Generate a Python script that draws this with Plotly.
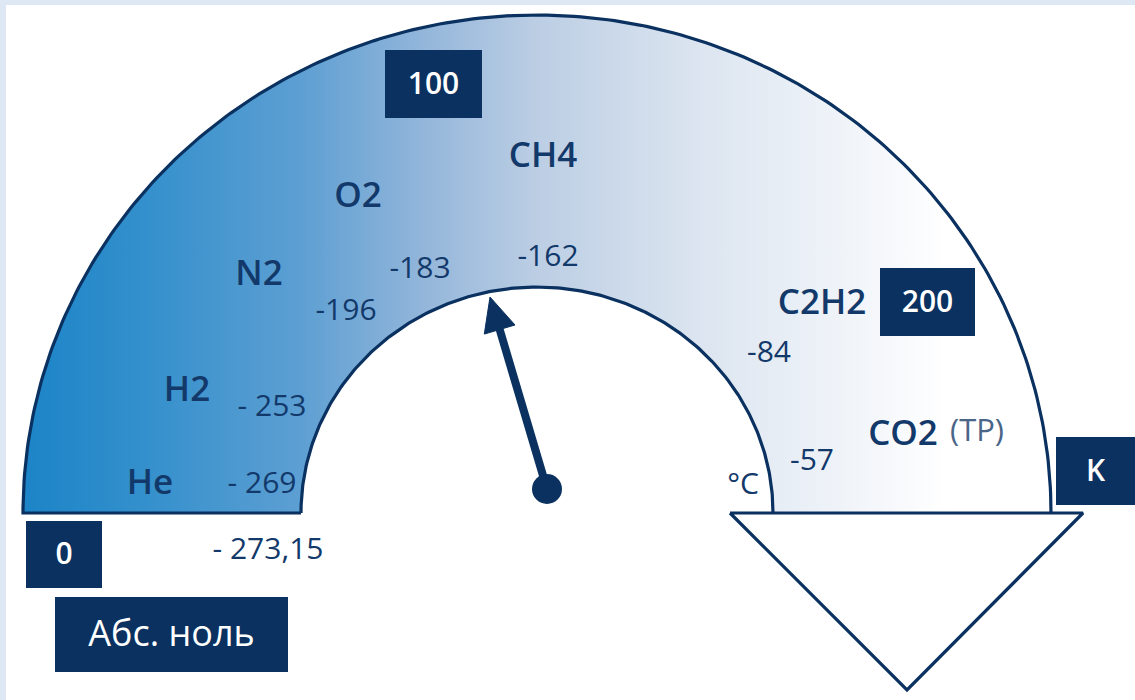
import numpy as np
import plotly.graph_objects as go

# ---------------- data ----------------
gases = ["He", "H2", "N2", "O2", "CH4", "C2H2", "CO2"]
boil_labels = ["- 269", "- 253", "-196", "-183", "-162", "-84", "-57"]
kelvin_ticks = ["0", "100", "200", "K"]
zero_c_label = "- 273,15"
unit_c = "°C"
abs_zero = "Абс. ноль"
co2_note = "(TP)"

# ---------------- layout / style (pixel coordinates) ----------------
W, H = 1135, 700
NAVY = "#0a3160"
TXT = "#12396a"
CX, CY = 537, 513
OUT_A, OUT_B = 514, 498
IN_A, IN_B = 236, 226

gas_pos = [(150, 485), (187, 392), (259, 276), (358, 198), (543, 158), (822, 305), (903, 436)]
boil_pos = [(262, 485), (272, 408), (346, 312), (420, 270), (548, 258), (769, 354), (812, 462)]
tick_boxes = [(26, 521, 102, 588), (385, 50, 482, 118), (880, 268, 975, 336), (1056, 437, 1135, 505)]
FONT = "Open Sans"

t = np.linspace(np.pi, 0, 240)
ox = CX + OUT_A * np.cos(t)
oy = CY - OUT_B * np.sin(t)
ix = CX + IN_A * np.cos(t[::-1])
iy = CY - IN_B * np.sin(t[::-1])

fig = go.Figure()

# gradient band
fig.add_trace(go.Scatter(
    x=np.concatenate([ox, ix, [ox[0]]]), y=np.concatenate([oy, iy, [oy[0]]]),
    mode="lines", fill="toself", line=dict(width=0),
    fillgradient=dict(type="horizontal", start=CX - OUT_A, stop=CX + OUT_A,
                      colorscale=[[0, "#1c84c7"], [0.12, "#3490cc"], [0.27, "#5d9fd3"],
                                  [0.39, "#93b6da"], [0.5, "#bccee4"], [0.66, "#dce5f0"],
                                  [0.8, "#f0f4f9"], [0.9, "#ffffff"], [1, "#ffffff"]]),
    hoverinfo="skip", showlegend=False))

# outlines
fig.add_trace(go.Scatter(
    x=np.concatenate([[CX - IN_A], ox]), y=np.concatenate([[CY], oy]),
    mode="lines", line=dict(color=NAVY, width=3.2), hoverinfo="skip", showlegend=False))
fig.add_trace(go.Scatter(
    x=ix, y=iy, mode="lines", line=dict(color=NAVY, width=3.2), hoverinfo="skip", showlegend=False))

# arrow triangle (down)
fig.add_trace(go.Scatter(
    x=[730, 1083, 907, 730], y=[513, 513, 690, 513], mode="lines", fill="toself",
    fillcolor="white", line=dict(color=NAVY, width=3.2), hoverinfo="skip", showlegend=False))

# gas labels
fig.add_trace(go.Scatter(
    x=[p[0] for p in gas_pos], y=[p[1] for p in gas_pos], text=gases, mode="text",
    textfont=dict(family=FONT, size=35, color=TXT, weight=600), hoverinfo="skip", showlegend=False))
fig.add_trace(go.Scatter(
    x=[977], y=[433], text=[co2_note], mode="text",
    textfont=dict(family=FONT, size=31, color="#4a6588"), hoverinfo="skip", showlegend=False))

# boiling temperatures
fig.add_trace(go.Scatter(
    x=[p[0] for p in boil_pos], y=[p[1] for p in boil_pos], text=boil_labels, mode="text",
    textfont=dict(family=FONT, size=30, color=TXT), hoverinfo="skip", showlegend=False))
fig.add_trace(go.Scatter(
    x=[268, 743], y=[551, 486], text=[zero_c_label, unit_c], mode="text",
    textfont=dict(family=FONT, size=30, color=TXT), hoverinfo="skip", showlegend=False))

shapes = [dict(type="rect", x0=6, y0=5, x1=W, y1=H, fillcolor="white", line_width=0, layer="below")]

# kelvin boxes
for (x0, y0, x1, y1), lab in zip(tick_boxes, kelvin_ticks):
    shapes.append(dict(type="rect", x0=x0, y0=y0, x1=x1, y1=y1, fillcolor=NAVY, line_width=0,
                       layer="above",
                       label=dict(text=lab, textposition="middle center",
                                  font=dict(family=FONT, size=30, color="white", weight=600))))
shapes.append(dict(type="rect", x0=55, y0=597, x1=288, y1=672, fillcolor=NAVY, line_width=0,
                   layer="above",
                   label=dict(text=abs_zero, textposition="middle center",
                              font=dict(family=FONT, size=36, color="white"))))

# needle
hub = (547, 489)
tip = (490, 297)
d = np.array(tip) - np.array(hub)
d = d / np.linalg.norm(d)
perp = np.array([-d[1], d[0]])
base = np.array(tip) - 34 * d
c1 = base + 16 * perp
c2 = base - 16 * perp
shapes.append(dict(type="line", x0=hub[0], y0=hub[1], x1=base[0] + 3 * d[0], y1=base[1] + 3 * d[1],
                   line=dict(color=NAVY, width=8), layer="above"))
shapes.append(dict(type="path",
                   path=f"M {tip[0]},{tip[1]} L {c1[0]:.1f},{c1[1]:.1f} L {c2[0]:.1f},{c2[1]:.1f} Z",
                   fillcolor=NAVY, line=dict(color=NAVY, width=1), layer="above"))
shapes.append(dict(type="circle", x0=hub[0] - 15, y0=hub[1] - 15, x1=hub[0] + 15, y1=hub[1] + 15,
                   fillcolor=NAVY, line_width=0, layer="above"))

fig.update_layout(
    width=W, height=H, margin=dict(l=0, r=0, t=0, b=0),
    paper_bgcolor="#dde8f4", plot_bgcolor="#dde8f4",
    xaxis=dict(range=[0, W], visible=False, fixedrange=True),
    yaxis=dict(range=[H, 0], visible=False, fixedrange=True),
    shapes=shapes, showlegend=False,
)

fig.write_html("out.html", config={"displayModeBar": False},
               post_script="document.body.style.margin='0';document.body.style.overflow='hidden';")
